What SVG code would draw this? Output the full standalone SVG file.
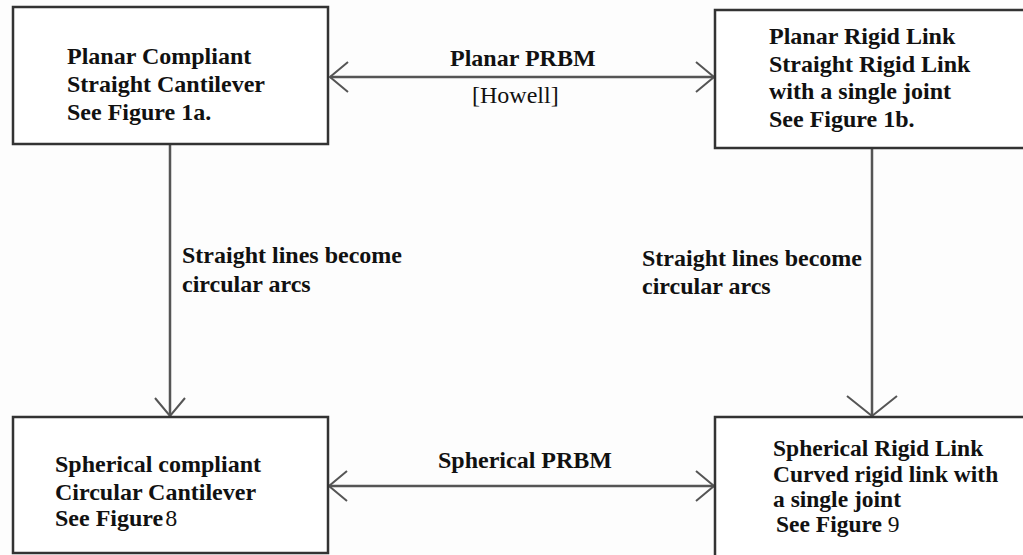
<svg xmlns="http://www.w3.org/2000/svg" width="1023" height="555" viewBox="0 0 1023 555">
  <style>
    .box { fill: #ffffff; stroke: #333333; stroke-width: 2.5; }
    .conn { stroke: #555555; stroke-width: 2.5; fill: none; }
    .t { font-family: "Liberation Serif", "Times New Roman", serif; font-weight: bold; font-size: 24px; fill: #111111; }
    .r { font-weight: normal; }
  </style>
  <defs>
    <marker id="vee" viewBox="0 0 20 32" refX="19" refY="16" markerWidth="20" markerHeight="32" markerUnits="userSpaceOnUse" orient="auto-start-reverse">
      <path d="M1,1 L19,16 L1,31" fill="none" stroke="#555555" stroke-width="2"/>
    </marker>
    <marker id="veeW" viewBox="0 0 22 52" refX="21" refY="26" markerWidth="22" markerHeight="52" markerUnits="userSpaceOnUse" orient="auto">
      <path d="M1,1 L21,26 L1,51" fill="none" stroke="#555555" stroke-width="2"/>
    </marker>
  </defs>
  <rect width="1023" height="555" fill="#fdfdfd"/>

  <g id="connectors">
    <line class="conn" x1="330" y1="77" x2="714" y2="77" marker-start="url(#vee)" marker-end="url(#vee)"/>
    <line class="conn" x1="170" y1="145" x2="170" y2="416" marker-end="url(#vee)"/>
    <line class="conn" x1="872" y1="149" x2="872" y2="416" marker-end="url(#veeW)"/>
    <line class="conn" x1="329" y1="486" x2="714" y2="486" marker-start="url(#vee)" marker-end="url(#vee)"/>
    <text class="t" x="450" y="66">Planar PRBM</text>
    <text class="t r" x="472" y="103">[Howell]</text>
    <text class="t" x="182" y="263">Straight lines become</text>
    <text class="t" x="182" y="292">circular arcs</text>
    <text class="t" x="642" y="266">Straight lines become</text>
    <text class="t" x="642" y="294">circular arcs</text>
    <text class="t" x="438" y="468">Spherical PRBM</text>
  </g>

  <g id="planar-compliant">
    <rect class="box" x="13" y="7" width="315" height="137"/>
    <text class="t" x="67" y="64">Planar Compliant</text>
    <text class="t" x="67" y="92">Straight Cantilever</text>
    <text class="t" x="67" y="120">See Figure 1a.</text>
  </g>

  <g id="planar-rigid">
    <rect class="box" x="715" y="10" width="320" height="138"/>
    <text class="t" x="769" y="44">Planar Rigid Link</text>
    <text class="t" x="769" y="72">Straight Rigid Link</text>
    <text class="t" x="769" y="99">with a single joint</text>
    <text class="t" x="769" y="127">See Figure 1b.</text>
  </g>

  <g id="spherical-compliant">
    <rect class="box" x="13" y="417" width="315" height="136"/>
    <text class="t" x="55" y="472">Spherical compliant</text>
    <text class="t" x="55" y="500">Circular Cantilever</text>
    <text class="t" x="55" y="526">See Figure<tspan class="r" dx="2">8</tspan></text>
  </g>

  <g id="spherical-rigid">
    <rect class="box" x="715" y="417" width="320" height="150"/>
    <text class="t" x="773" y="456" style="font-size:23.5px">Spherical Rigid Link</text>
    <text class="t" x="773" y="482" style="font-size:23.5px">Curved rigid link with</text>
    <text class="t" x="773" y="507" style="font-size:23.5px">a single joint</text>
    <text class="t" x="776" y="532" style="font-size:23.5px">See Figure <tspan class="r">9</tspan></text>
  </g>
</svg>
